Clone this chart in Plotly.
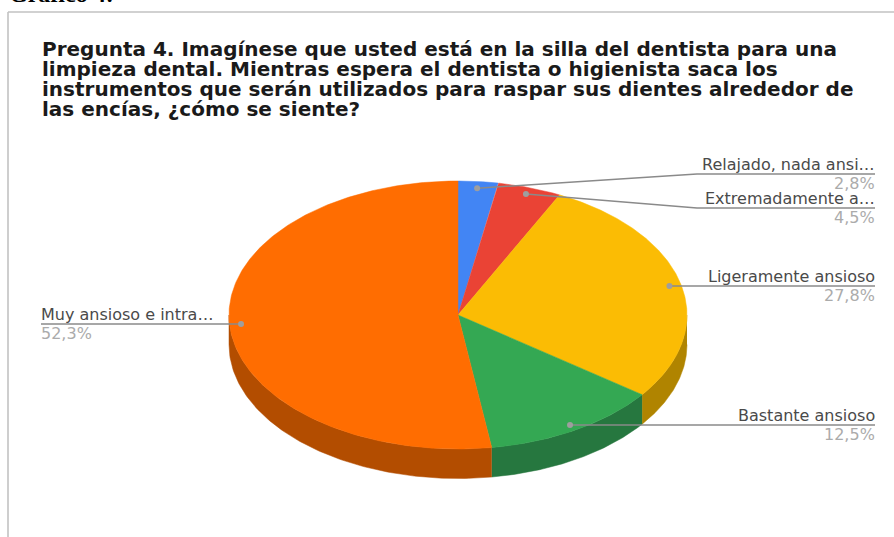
import numpy as np
import plotly.graph_objects as go

# Survey answers, in clockwise order from twelve o'clock
short_labels = ["Relajado, nada ansi…", "Extremadamente a…", "Ligeramente ansioso",
                "Bastante ansioso", "Muy ansioso e intra…"]
percent_values = [2.8, 4.5, 27.8, 12.5, 52.3]
percent_texts = ["2,8%", "4,5%", "27,8%", "12,5%", "52,3%"]
top_colors = ["#4285F4", "#EA4335", "#FBBC04", "#34A853", "#FF6D01"]
side_colors = ["#2F5DAB", "#A32F25", "#B08400", "#26773F", "#B34D00"]
title_lines = [
    "Pregunta 4. Imagínese que usted está en la silla del dentista para una",
    "limpieza dental. Mientras espera el dentista o higienista saca los",
    "instrumentos que serán utilizados para raspar sus dientes alrededor de",
    "las encías, ¿cómo se siente?",
]

# Projection of the tilted disc onto the page
CX, CY, RX, RY, DEPTH = 458.0, 315.0, 229.0, 134.0, 29.5
DOT_RADIUS = 0.95
LABEL_RIGHT = 875

# Leader layout per slice: elbow x (None = straight), line y, label side
leader_y = [174, 208, 286, 425, 324]
elbow_x = [697, 697, None, None, None]
label_side = ["right", "right", "right", "right", "left"]
LABEL_LEFT = 41
TEXT_FONT = "DejaVu Sans"


def project(angle, scale=1.0, drop=0.0):
    return CX + RX * scale * np.sin(angle), CY - RY * scale * np.cos(angle) + drop


values = np.array(percent_values)
edges = np.concatenate([[0.0], np.cumsum(values)]) / values.sum() * 2 * np.pi

fig = go.Figure()

# Rim of the disc: only the part of each slice that faces the viewer
for start, stop, color in zip(edges[:-1], edges[1:], side_colors):
    lo, hi = max(start, np.pi / 2), min(stop, 3 * np.pi / 2)
    if hi <= lo:
        continue
    arc = np.linspace(lo, hi, 120)
    top_x, top_y = project(arc)
    low_x, low_y = project(arc[::-1], drop=DEPTH)
    fig.add_trace(go.Scatter(
        x=np.concatenate([top_x, low_x]), y=np.concatenate([top_y, low_y]),
        mode="lines", fill="toself", fillcolor=color,
        line=dict(color=color, width=0.5), hoverinfo="skip"))

# Top face
for start, stop, color in zip(edges[:-1], edges[1:], top_colors):
    arc = np.linspace(start, stop, 240)
    arc_x, arc_y = project(arc)
    fig.add_trace(go.Scatter(
        x=np.concatenate([[CX], arc_x, [CX]]), y=np.concatenate([[CY], arc_y, [CY]]),
        mode="lines", fill="toself", fillcolor=color,
        line=dict(color=color, width=0.5), hoverinfo="skip"))

annotations = []

# Leader lines, anchor dots and the two-row labels
mid_angles = (edges[:-1] + edges[1:]) / 2
for i, angle in enumerate(mid_angles):
    dot_x, dot_y = project(angle, scale=DOT_RADIUS)
    end_x = LABEL_RIGHT if label_side[i] == "right" else LABEL_LEFT
    path_x = [float(dot_x)]
    path_y = [float(dot_y)]
    if elbow_x[i] is not None:
        path_x.append(elbow_x[i])
        path_y.append(leader_y[i])
    else:
        path_y[0] = leader_y[i]
    path_x.append(end_x)
    path_y.append(leader_y[i])
    fig.add_trace(go.Scatter(x=path_x, y=path_y, mode="lines",
                             line=dict(color="#8a8a8a", width=1.5), hoverinfo="skip"))
    fig.add_trace(go.Scatter(x=path_x[:1], y=path_y[:1], mode="markers",
                             marker=dict(color="#9e9e9e", size=6), hoverinfo="skip"))
    anchor = "right" if label_side[i] == "right" else "left"
    nudge = 2 if anchor == "right" else -2
    annotations.append(dict(x=end_x, y=leader_y[i] - 9.5, xshift=nudge, text=short_labels[i],
                            xanchor=anchor, yanchor="middle", showarrow=False,
                            font=dict(family=TEXT_FONT, size=16, color="#4a4a4a")))
    annotations.append(dict(x=end_x, y=leader_y[i] + 9.5, xshift=nudge, text=percent_texts[i],
                            xanchor=anchor, yanchor="middle", showarrow=False,
                            font=dict(family=TEXT_FONT, size=16, color="#ababab")))

# Chart title, one row at a time because of its tight leading
for i, line in enumerate(title_lines):
    annotations.append(dict(x=40, y=49 + 20 * i, text=line, xanchor="left", yanchor="middle",
                            showarrow=False,
                            font=dict(family=TEXT_FONT, size=20, color="#1a1a1a",
                                      weight="bold")))

# Heading above the frame, cut off by the page edge
annotations.append(dict(x=7, y=0, yshift=-9, text="Gráfico 4:", xanchor="left", yanchor="bottom",
                        showarrow=False,
                        font=dict(family="Liberation Serif", size=24, color="#000000",
                                  weight="bold")))

# Chart frame: top and left edges only reach the page borders
frame = [
    dict(type="line", x0=8, x1=894, y0=12, y1=12, line=dict(color="#c2c2c2", width=1.6)),
    dict(type="line", x0=8, x1=8, y0=12, y1=537, line=dict(color="#c2c2c2", width=1.6)),
]

fig.update_layout(
    width=894, height=537, margin=dict(l=0, r=0, t=0, b=0),
    paper_bgcolor="white", plot_bgcolor="white", showlegend=False,
    xaxis=dict(range=[0, 894], visible=False, fixedrange=True),
    yaxis=dict(range=[537, 0], visible=False, fixedrange=True),
    annotations=annotations, shapes=frame,
)

fig.write_html("out.html", config={"displayModeBar": False})
